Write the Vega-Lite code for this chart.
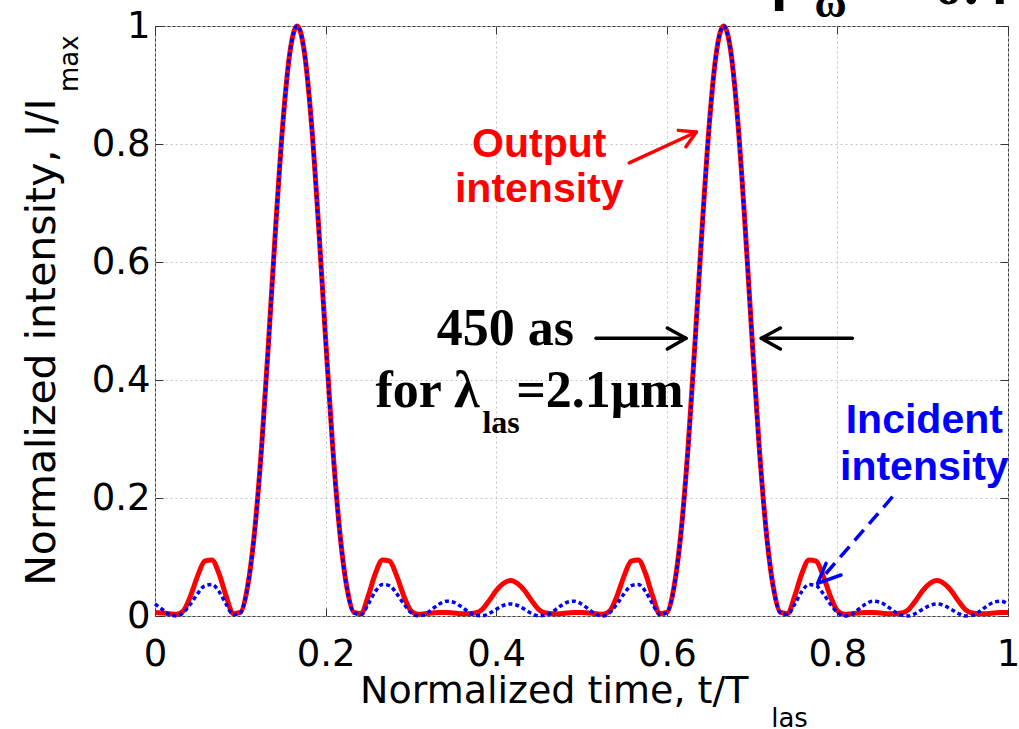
{
  "$schema": "https://vega.github.io/schema/vega-lite/v6.json",
  "width": 853,
  "height": 590,
  "autosize": {"type": "none"},
  "padding": {"left": 155, "top": 26, "right": 11, "bottom": 113},
  "background": "white",
  "config": {"view": {"stroke": "#404040", "strokeWidth": 1}},
  "resolve": {"axis": {"x": "independent", "y": "independent"}},
  "datasets": {
    "curves": [
      {"t": 0, "output": 0.006, "incident": 0.0204},
      {"t": 0.00833, "output": 0.005, "incident": 0.0115},
      {"t": 0.01667, "output": 0.004, "incident": 0.003},
      {"t": 0.025, "output": 0.003, "incident": 0.0001},
      {"t": 0.03333, "output": 0.009, "incident": 0.0061},
      {"t": 0.04167, "output": 0.034, "incident": 0.0204},
      {"t": 0.05, "output": 0.068, "incident": 0.038},
      {"t": 0.05833, "output": 0.093, "incident": 0.0514},
      {"t": 0.06667, "output": 0.095, "incident": 0.0534},
      {"t": 0.075, "output": 0.072, "incident": 0.0416},
      {"t": 0.08333, "output": 0.034, "incident": 0.0204},
      {"t": 0.09167, "output": 0.004, "incident": 0.0024},
      {"t": 0.1, "output": 0.006, "incident": 0.0053},
      {"t": 0.10833, "output": 0.048, "incident": 0.0471},
      {"t": 0.11667, "output": 0.142, "incident": 0.1399},
      {"t": 0.125, "output": 0.287, "incident": 0.2843},
      {"t": 0.13333, "output": 0.47, "incident": 0.467},
      {"t": 0.14167, "output": 0.664, "incident": 0.6621},
      {"t": 0.15, "output": 0.837, "incident": 0.8363},
      {"t": 0.15833, "output": 0.957, "incident": 0.9568},
      {"t": 0.16667, "output": 1, "incident": 1},
      {"t": 0.175, "output": 0.957, "incident": 0.9568},
      {"t": 0.18333, "output": 0.837, "incident": 0.8363},
      {"t": 0.19167, "output": 0.664, "incident": 0.6621},
      {"t": 0.2, "output": 0.47, "incident": 0.467},
      {"t": 0.20833, "output": 0.287, "incident": 0.2843},
      {"t": 0.21667, "output": 0.142, "incident": 0.1399},
      {"t": 0.225, "output": 0.048, "incident": 0.0471},
      {"t": 0.23333, "output": 0.006, "incident": 0.0053},
      {"t": 0.24167, "output": 0.004, "incident": 0.0024},
      {"t": 0.25, "output": 0.034, "incident": 0.0204},
      {"t": 0.25833, "output": 0.072, "incident": 0.0416},
      {"t": 0.26667, "output": 0.095, "incident": 0.0534},
      {"t": 0.275, "output": 0.093, "incident": 0.0514},
      {"t": 0.28333, "output": 0.068, "incident": 0.038},
      {"t": 0.29167, "output": 0.034, "incident": 0.0204},
      {"t": 0.3, "output": 0.009, "incident": 0.0061},
      {"t": 0.30833, "output": 0.003, "incident": 0.0001},
      {"t": 0.31667, "output": 0.004, "incident": 0.003},
      {"t": 0.325, "output": 0.005, "incident": 0.0115},
      {"t": 0.33333, "output": 0.006, "incident": 0.0204},
      {"t": 0.34167, "output": 0.006, "incident": 0.0251},
      {"t": 0.35, "output": 0.005, "incident": 0.0234},
      {"t": 0.35833, "output": 0.004, "incident": 0.0165},
      {"t": 0.36667, "output": 0.004, "incident": 0.0078},
      {"t": 0.375, "output": 0.005, "incident": 0.0015},
      {"t": 0.38333, "output": 0.011, "incident": 0.0002},
      {"t": 0.39167, "output": 0.026, "incident": 0.0043},
      {"t": 0.4, "output": 0.043, "incident": 0.0114},
      {"t": 0.40833, "output": 0.055, "incident": 0.0178},
      {"t": 0.41667, "output": 0.06, "incident": 0.0204},
      {"t": 0.425, "output": 0.055, "incident": 0.0178},
      {"t": 0.43333, "output": 0.043, "incident": 0.0114},
      {"t": 0.44167, "output": 0.026, "incident": 0.0043},
      {"t": 0.45, "output": 0.011, "incident": 0.0002},
      {"t": 0.45833, "output": 0.005, "incident": 0.0015},
      {"t": 0.46667, "output": 0.004, "incident": 0.0078},
      {"t": 0.475, "output": 0.004, "incident": 0.0165},
      {"t": 0.48333, "output": 0.005, "incident": 0.0234},
      {"t": 0.49167, "output": 0.006, "incident": 0.0251},
      {"t": 0.5, "output": 0.006, "incident": 0.0204},
      {"t": 0.50833, "output": 0.005, "incident": 0.0115},
      {"t": 0.51667, "output": 0.004, "incident": 0.003},
      {"t": 0.525, "output": 0.003, "incident": 0.0001},
      {"t": 0.53333, "output": 0.009, "incident": 0.0061},
      {"t": 0.54167, "output": 0.034, "incident": 0.0204},
      {"t": 0.55, "output": 0.068, "incident": 0.038},
      {"t": 0.55833, "output": 0.093, "incident": 0.0514},
      {"t": 0.56667, "output": 0.095, "incident": 0.0534},
      {"t": 0.575, "output": 0.072, "incident": 0.0416},
      {"t": 0.58333, "output": 0.034, "incident": 0.0204},
      {"t": 0.59167, "output": 0.004, "incident": 0.0024},
      {"t": 0.6, "output": 0.006, "incident": 0.0053},
      {"t": 0.60833, "output": 0.048, "incident": 0.0471},
      {"t": 0.61667, "output": 0.142, "incident": 0.1399},
      {"t": 0.625, "output": 0.287, "incident": 0.2843},
      {"t": 0.63333, "output": 0.47, "incident": 0.467},
      {"t": 0.64167, "output": 0.664, "incident": 0.6621},
      {"t": 0.65, "output": 0.837, "incident": 0.8363},
      {"t": 0.65833, "output": 0.957, "incident": 0.9568},
      {"t": 0.66667, "output": 1, "incident": 1},
      {"t": 0.675, "output": 0.957, "incident": 0.9568},
      {"t": 0.68333, "output": 0.837, "incident": 0.8363},
      {"t": 0.69167, "output": 0.664, "incident": 0.6621},
      {"t": 0.7, "output": 0.47, "incident": 0.467},
      {"t": 0.70833, "output": 0.287, "incident": 0.2843},
      {"t": 0.71667, "output": 0.142, "incident": 0.1399},
      {"t": 0.725, "output": 0.048, "incident": 0.0471},
      {"t": 0.73333, "output": 0.006, "incident": 0.0053},
      {"t": 0.74167, "output": 0.004, "incident": 0.0024},
      {"t": 0.75, "output": 0.034, "incident": 0.0204},
      {"t": 0.75833, "output": 0.072, "incident": 0.0416},
      {"t": 0.76667, "output": 0.095, "incident": 0.0534},
      {"t": 0.775, "output": 0.093, "incident": 0.0514},
      {"t": 0.78333, "output": 0.068, "incident": 0.038},
      {"t": 0.79167, "output": 0.034, "incident": 0.0204},
      {"t": 0.8, "output": 0.009, "incident": 0.0061},
      {"t": 0.80833, "output": 0.003, "incident": 0.0001},
      {"t": 0.81667, "output": 0.004, "incident": 0.003},
      {"t": 0.825, "output": 0.005, "incident": 0.0115},
      {"t": 0.83333, "output": 0.006, "incident": 0.0204},
      {"t": 0.84167, "output": 0.006, "incident": 0.0251},
      {"t": 0.85, "output": 0.005, "incident": 0.0234},
      {"t": 0.85833, "output": 0.004, "incident": 0.0165},
      {"t": 0.86667, "output": 0.004, "incident": 0.0078},
      {"t": 0.875, "output": 0.005, "incident": 0.0015},
      {"t": 0.88333, "output": 0.011, "incident": 0.0002},
      {"t": 0.89167, "output": 0.026, "incident": 0.0043},
      {"t": 0.9, "output": 0.043, "incident": 0.0114},
      {"t": 0.90833, "output": 0.055, "incident": 0.0178},
      {"t": 0.91667, "output": 0.06, "incident": 0.0204},
      {"t": 0.925, "output": 0.055, "incident": 0.0178},
      {"t": 0.93333, "output": 0.043, "incident": 0.0114},
      {"t": 0.94167, "output": 0.026, "incident": 0.0043},
      {"t": 0.95, "output": 0.011, "incident": 0.0002},
      {"t": 0.95833, "output": 0.005, "incident": 0.0015},
      {"t": 0.96667, "output": 0.004, "incident": 0.0078},
      {"t": 0.975, "output": 0.004, "incident": 0.0165},
      {"t": 0.98333, "output": 0.005, "incident": 0.0234},
      {"t": 0.99167, "output": 0.006, "incident": 0.0251},
      {"t": 1, "output": 0.006, "incident": 0.0204}
    ]
  },
  "layer": [
    {
      "data": {"name": "curves"},
      "mark": {"type": "line", "color": "#ff0000", "strokeWidth": 5, "interpolate": "monotone"},
      "encoding": {
        "x": {"field": "t", "type": "quantitative", "scale": {"domain": [0, 1], "nice": false, "zero": false},
          "axis": {"values": [0, 0.2, 0.4, 0.6, 0.8, 1], "format": "~g", "grid": true, "gridColor": "#c4c4c4", "gridDash": [2, 3], "gridWidth": 1,
            "domain": false, "tickSize": -8, "tickColor": "#333333", "tickWidth": 1,
            "labelFont": "DejaVu Sans", "labelFontSize": 37, "labelColor": "#000000", "labelPadding": 28, "labelFlush": false, "labelOverlap": false,
            "title": "Normalized time, t/T", "titleFont": "DejaVu Sans", "titleFontSize": 38, "titleFontWeight": "normal", "titleColor": "#000000",
            "titleAlign": "right", "titleX": 593, "titleY": 86, "titleBaseline": "alphabetic"}},
        "y": {"field": "output", "type": "quantitative", "scale": {"domain": [0, 1], "nice": false, "zero": false},
          "axis": {"values": [0, 0.2, 0.4, 0.6, 0.8, 1], "format": "~g", "grid": true, "gridColor": "#c4c4c4", "gridDash": [2, 3], "gridWidth": 1,
            "domain": false, "tickSize": -8, "tickColor": "#333333", "tickWidth": 1,
            "labelFont": "DejaVu Sans", "labelFontSize": 37, "labelColor": "#000000", "labelPadding": 13, "labelFlush": false, "labelOverlap": false,
            "title": "Normalized intensity, I/I", "titleFont": "DejaVu Sans", "titleFontSize": 41, "titleFontWeight": "normal", "titleColor": "#000000",
            "titleAngle": 270, "titleAlign": "right", "titleX": -101, "titleY": 72, "titleBaseline": "alphabetic"}}
      }
    },
    {
      "data": {"name": "curves"},
      "mark": {"type": "line", "color": "#0000ff", "strokeWidth": 3.5, "strokeDash": [4, 3], "interpolate": "monotone"},
      "encoding": {
        "x": {"field": "t", "type": "quantitative", "scale": {"domain": [0, 1], "nice": false, "zero": false}, "axis": null},
        "y": {"field": "incident", "type": "quantitative", "scale": {"domain": [0, 1], "nice": false, "zero": false}, "axis": null}
      }
    },
    {
      "data": {"name": "curves"},
      "mark": {"type": "point", "opacity": 0},
      "encoding": {
        "x": {"field": "t", "type": "quantitative", "scale": {"domain": [0, 1], "nice": false, "zero": false},
          "axis": {"orient": "top", "values": [0, 0.2, 0.4, 0.6, 0.8, 1], "labels": false, "grid": false, "domain": false, "tickSize": -8, "tickColor": "#333333", "title": null}},
        "y": {"field": "output", "type": "quantitative", "scale": {"domain": [0, 1], "nice": false, "zero": false},
          "axis": {"orient": "right", "values": [0, 0.2, 0.4, 0.6, 0.8, 1], "labels": false, "grid": false, "domain": false, "tickSize": -8, "tickColor": "#333333", "title": null}}
      }
    },
    {
      "data": {"values": [
        {"x": 0.556, "y": 0.768, "g": "s", "o": 1}, {"x": 0.6346, "y": 0.8203, "g": "s", "o": 2},
        {"x": 0.6135, "y": 0.8231, "g": "h", "o": 1}, {"x": 0.6346, "y": 0.8203, "g": "h", "o": 2}, {"x": 0.6224, "y": 0.7954, "g": "h", "o": 3}
      ]},
      "mark": {"type": "line", "color": "#ff0000", "strokeWidth": 3.5, "strokeCap": "round", "strokeJoin": "round"},
      "encoding": {
        "x": {"field": "x", "type": "quantitative", "scale": {"domain": [0, 1], "nice": false, "zero": false}, "axis": null},
        "y": {"field": "y", "type": "quantitative", "scale": {"domain": [0, 1], "nice": false, "zero": false}, "axis": null},
        "detail": {"field": "g"}, "order": {"field": "o"}
      }
    },
    {
      "data": {"values": [
        {"x": 0.517, "y": 0.4707, "g": "a", "o": 1}, {"x": 0.6225, "y": 0.4707, "g": "a", "o": 2},
        {"x": 0.6006, "y": 0.4881, "g": "ah", "o": 1}, {"x": 0.6225, "y": 0.4707, "g": "ah", "o": 2}, {"x": 0.6006, "y": 0.4525, "g": "ah", "o": 3},
        {"x": 0.8175, "y": 0.4707, "g": "b", "o": 1}, {"x": 0.7108, "y": 0.4707, "g": "b", "o": 2},
        {"x": 0.7331, "y": 0.4881, "g": "bh", "o": 1}, {"x": 0.7108, "y": 0.4707, "g": "bh", "o": 2}, {"x": 0.7331, "y": 0.4525, "g": "bh", "o": 3}
      ]},
      "mark": {"type": "line", "color": "#000000", "strokeWidth": 3.5, "strokeCap": "round", "strokeJoin": "round"},
      "encoding": {
        "x": {"field": "x", "type": "quantitative", "scale": {"domain": [0, 1], "nice": false, "zero": false}, "axis": null},
        "y": {"field": "y", "type": "quantitative", "scale": {"domain": [0, 1], "nice": false, "zero": false}, "axis": null},
        "detail": {"field": "g"}, "order": {"field": "o"}
      }
    },
    {
      "data": {"values": [
        {"x": 0.8647, "y": 0.2022, "o": 1}, {"x": 0.7800, "y": 0.0610, "o": 2}
      ]},
      "mark": {"type": "line", "color": "#0000ff", "strokeWidth": 3.5, "strokeDash": [14, 8]},
      "encoding": {
        "x": {"field": "x", "type": "quantitative", "scale": {"domain": [0, 1], "nice": false, "zero": false}, "axis": null},
        "y": {"field": "y", "type": "quantitative", "scale": {"domain": [0, 1], "nice": false, "zero": false}, "axis": null},
        "order": {"field": "o"}
      }
    },
    {
      "data": {"values": [
        {"x": 0.7867, "y": 0.0893, "o": 1}, {"x": 0.7768, "y": 0.0554, "o": 2}, {"x": 0.8042, "y": 0.0695, "o": 3}
      ]},
      "mark": {"type": "line", "color": "#0000ff", "strokeWidth": 3.5, "strokeCap": "round", "strokeJoin": "round"},
      "encoding": {
        "x": {"field": "x", "type": "quantitative", "scale": {"domain": [0, 1], "nice": false, "zero": false}, "axis": null},
        "y": {"field": "y", "type": "quantitative", "scale": {"domain": [0, 1], "nice": false, "zero": false}, "axis": null},
        "order": {"field": "o"}
      }
    },
    {
      "data": {"values": [
        {"x": 0.4505, "y": 0.7785, "label": "Output"},
        {"x": 0.4505, "y": 0.702, "label": "intensity"}
      ]},
      "mark": {"type": "text", "font": "Liberation Sans", "fontWeight": "bold", "fontSize": 41, "color": "#ff0000", "align": "center", "baseline": "alphabetic"},
      "encoding": {
        "x": {"field": "x", "type": "quantitative", "scale": {"domain": [0, 1], "nice": false, "zero": false}, "axis": null},
        "y": {"field": "y", "type": "quantitative", "scale": {"domain": [0, 1], "nice": false, "zero": false}, "axis": null},
        "text": {"field": "label"}
      }
    },
    {
      "data": {"values": [
        {"x": 0.9019, "y": 0.3107, "label": "Incident"},
        {"x": 0.9019, "y": 0.2305, "label": "intensity"}
      ]},
      "mark": {"type": "text", "font": "Liberation Sans", "fontWeight": "bold", "fontSize": 41, "color": "#0000ff", "align": "center", "baseline": "alphabetic"},
      "encoding": {
        "x": {"field": "x", "type": "quantitative", "scale": {"domain": [0, 1], "nice": false, "zero": false}, "axis": null},
        "y": {"field": "y", "type": "quantitative", "scale": {"domain": [0, 1], "nice": false, "zero": false}, "axis": null},
        "text": {"field": "label"}
      }
    },
    {
      "data": {"values": [
        {"x": 0.4107, "y": 0.459, "label": "450 as"}
      ]},
      "mark": {"type": "text", "font": "Liberation Serif", "fontWeight": "bold", "fontSize": 52, "color": "#000000", "align": "center", "baseline": "alphabetic"},
      "encoding": {
        "x": {"field": "x", "type": "quantitative", "scale": {"domain": [0, 1], "nice": false, "zero": false}, "axis": null},
        "y": {"field": "y", "type": "quantitative", "scale": {"domain": [0, 1], "nice": false, "zero": false}, "axis": null},
        "text": {"field": "label"}
      }
    },
    {
      "data": {"values": [
        {"x": 0.3804, "y": 0.3547, "label": "for λ"}
      ]},
      "mark": {"type": "text", "font": "Liberation Serif", "fontWeight": "bold", "fontSize": 52, "color": "#000000", "align": "right", "baseline": "alphabetic"},
      "encoding": {
        "x": {"field": "x", "type": "quantitative", "scale": {"domain": [0, 1], "nice": false, "zero": false}, "axis": null},
        "y": {"field": "y", "type": "quantitative", "scale": {"domain": [0, 1], "nice": false, "zero": false}, "axis": null},
        "text": {"field": "label"}
      }
    },
    {
      "data": {"values": [
        {"x": 0.4234, "y": 0.3547, "label": "=2.1μm"}
      ]},
      "mark": {"type": "text", "font": "Liberation Serif", "fontWeight": "bold", "fontSize": 52, "color": "#000000", "align": "left", "baseline": "alphabetic"},
      "encoding": {
        "x": {"field": "x", "type": "quantitative", "scale": {"domain": [0, 1], "nice": false, "zero": false}, "axis": null},
        "y": {"field": "y", "type": "quantitative", "scale": {"domain": [0, 1], "nice": false, "zero": false}, "axis": null},
        "text": {"field": "label"}
      }
    },
    {
      "data": {"values": [
        {"x": 0.3839, "y": 0.3102, "label": "las"}
      ]},
      "mark": {"type": "text", "font": "Liberation Serif", "fontWeight": "bold", "fontSize": 32, "color": "#000000", "align": "left", "baseline": "alphabetic"},
      "encoding": {
        "x": {"field": "x", "type": "quantitative", "scale": {"domain": [0, 1], "nice": false, "zero": false}, "axis": null},
        "y": {"field": "y", "type": "quantitative", "scale": {"domain": [0, 1], "nice": false, "zero": false}, "axis": null},
        "text": {"field": "label"}
      }
    },
    {
      "data": {"values": [
        {"x": 0.7227, "y": 1.0475, "label": "β"},
        {"x": 0.8728, "y": 1.0373, "label": "=0.4"}
      ]},
      "mark": {"type": "text", "font": "Liberation Serif", "fontWeight": "bold", "fontSize": 60, "color": "#000000", "align": "left", "baseline": "alphabetic"},
      "encoding": {
        "x": {"field": "x", "type": "quantitative", "scale": {"domain": [0, 1], "nice": false, "zero": false}, "axis": null},
        "y": {"field": "y", "type": "quantitative", "scale": {"domain": [0, 1], "nice": false, "zero": false}, "axis": null},
        "text": {"field": "label"}
      }
    },
    {
      "data": {"values": [
        {"x": 0.7731, "y": 1.0153, "label": "ω"}
      ]},
      "mark": {"type": "text", "font": "Liberation Serif", "fontWeight": "bold", "fontSize": 44, "color": "#000000", "align": "left", "baseline": "alphabetic"},
      "encoding": {
        "x": {"field": "x", "type": "quantitative", "scale": {"domain": [0, 1], "nice": false, "zero": false}, "axis": null},
        "y": {"field": "y", "type": "quantitative", "scale": {"domain": [0, 1], "nice": false, "zero": false}, "axis": null},
        "text": {"field": "label"}
      }
    },
    {
      "data": {"values": [
        {"x": 0.7224, "y": -0.1876, "label": "las"}
      ]},
      "mark": {"type": "text", "font": "DejaVu Sans", "fontSize": 26, "color": "#000000", "align": "left", "baseline": "alphabetic"},
      "encoding": {
        "x": {"field": "x", "type": "quantitative", "scale": {"domain": [0, 1], "nice": false, "zero": false}, "axis": null},
        "y": {"field": "y", "type": "quantitative", "scale": {"domain": [0, 1], "nice": false, "zero": false}, "axis": null},
        "text": {"field": "label"}
      }
    },
    {
      "data": {"values": [
        {"x": -0.0897, "y": 0.8881, "label": "max"}
      ]},
      "mark": {"type": "text", "font": "DejaVu Sans", "fontSize": 26, "color": "#000000", "align": "left", "baseline": "alphabetic", "angle": 270},
      "encoding": {
        "x": {"field": "x", "type": "quantitative", "scale": {"domain": [0, 1], "nice": false, "zero": false}, "axis": null},
        "y": {"field": "y", "type": "quantitative", "scale": {"domain": [0, 1], "nice": false, "zero": false}, "axis": null},
        "text": {"field": "label"}
      }
    }
  ]
}
